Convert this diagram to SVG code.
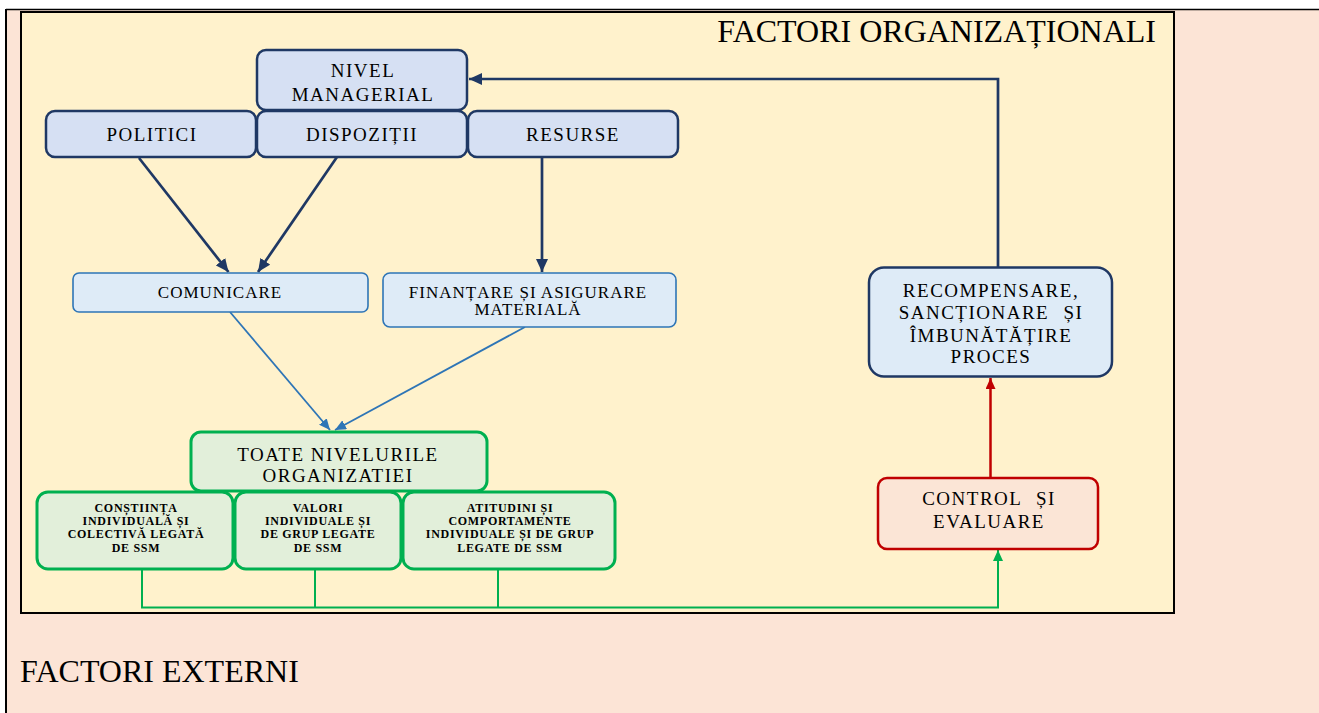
<svg xmlns="http://www.w3.org/2000/svg" width="1319" height="713" viewBox="0 0 1319 713">
<style>
.t{font-family:"Liberation Serif","Times New Roman",serif;fill:#000;text-anchor:middle}
.m{font-size:19px;letter-spacing:1.5px}
.s{font-size:17px;letter-spacing:1px}
.xs{font-size:12px;letter-spacing:0.7px;font-weight:bold}
.big{font-family:"Liberation Serif","Times New Roman",serif;font-size:32px;fill:#000}
.navy{fill:#D6E0F3;stroke:#1F3864;stroke-width:2.5}
.lb{fill:#DEEBF7;stroke:#2E75B6;stroke-width:1.6}
.lb2{fill:#DEEBF7;stroke:#1F3864;stroke-width:2.5}
.gr{fill:#E2EFDA;stroke:#00B050;stroke-width:3}
.rd{fill:#FBE5D6;stroke:#C00000;stroke-width:2.5}
</style>
<defs>
<marker id="aN" markerUnits="userSpaceOnUse" markerWidth="13" markerHeight="12" refX="13" refY="6" orient="auto"><path d="M0,0 L13,6 L0,12 z" fill="#1F3864"/></marker>
<marker id="aB" markerUnits="userSpaceOnUse" markerWidth="11" markerHeight="10" refX="11" refY="5" orient="auto"><path d="M0,0 L11,5 L0,10 z" fill="#2E75B6"/></marker>
<marker id="aR" markerUnits="userSpaceOnUse" markerWidth="11" markerHeight="10" refX="11" refY="5" orient="auto"><path d="M0,0 L11,5 L0,10 z" fill="#C00000"/></marker>
<marker id="aG" markerUnits="userSpaceOnUse" markerWidth="11" markerHeight="10" refX="11" refY="5" orient="auto"><path d="M0,0 L11,5 L0,10 z" fill="#00B050"/></marker>
</defs>
<rect x="0" y="0" width="1319" height="713" fill="#FFFFFF"/>
<rect x="6" y="9.5" width="1313" height="703.5" fill="#FCE4D6"/>
<line x1="6" y1="9.5" x2="1319" y2="9.5" stroke="#000" stroke-width="1.5"/>
<line x1="6" y1="9" x2="6" y2="713" stroke="#000" stroke-width="2"/>
<rect x="21" y="12" width="1153" height="601" fill="#FFF2CC" stroke="#000" stroke-width="2"/>
<text class="big" x="1156" y="42" text-anchor="end">FACTORI ORGANIZAȚIONALI</text>
<text class="big" x="20" y="682">FACTORI EXTERNI</text>

<g id="connectors" fill="none">
<line x1="139" y1="158" x2="228.5" y2="272" stroke="#1F3864" stroke-width="2.7" marker-end="url(#aN)"/>
<line x1="337" y1="157" x2="258" y2="272" stroke="#1F3864" stroke-width="2.7" marker-end="url(#aN)"/>
<line x1="542" y1="157" x2="542" y2="272" stroke="#1F3864" stroke-width="2.7" marker-end="url(#aN)"/>
<line x1="230" y1="312" x2="330" y2="430" stroke="#2E75B6" stroke-width="1.8" marker-end="url(#aB)"/>
<line x1="525" y1="327" x2="335" y2="430" stroke="#2E75B6" stroke-width="1.8" marker-end="url(#aB)"/>
<polyline points="142,569 142,607.5 998,607.5 998,550" stroke="#00B050" stroke-width="2" marker-end="url(#aG)"/>
<line x1="315" y1="569" x2="315" y2="607.5" stroke="#00B050" stroke-width="2"/>
<line x1="498" y1="569" x2="498" y2="607.5" stroke="#00B050" stroke-width="2"/>
<line x1="990.5" y1="477" x2="990.5" y2="378" stroke="#C00000" stroke-width="2.5" marker-end="url(#aR)"/>
<polyline points="998,267 998,79 469,79" stroke="#1F3864" stroke-width="2.7" marker-end="url(#aN)"/>
</g>

<g id="nivel">
<rect class="navy" x="257" y="50" width="210" height="60" rx="9"/>
<text class="t m" x="363" y="77">NIVEL</text>
<text class="t m" x="363" y="101">MANAGERIAL</text>
</g>
<g id="politici">
<rect class="navy" x="46" y="111" width="210" height="46" rx="9"/>
<text class="t m" x="152" y="141">POLITICI</text>
</g>
<g id="dispozitii">
<rect class="navy" x="257" y="111" width="210" height="46" rx="9"/>
<text class="t m" x="362" y="141">DISPOZIȚII</text>
</g>
<g id="resurse">
<rect class="navy" x="468" y="111" width="210" height="46" rx="9"/>
<text class="t m" x="573" y="141">RESURSE</text>
</g>
<g id="comunicare">
<rect class="lb" x="73" y="273" width="295" height="39" rx="6"/>
<text class="t s" x="220" y="298">COMUNICARE</text>
</g>
<g id="finantare">
<rect class="lb" x="383" y="273" width="293" height="54" rx="7"/>
<text class="t s" x="528" y="298">FINANȚARE ȘI ASIGURARE</text>
<text class="t s" x="528" y="315">MATERIALĂ</text>
</g>
<g id="toate">
<rect class="gr" x="191" y="432" width="296" height="59" rx="10"/>
<text class="t m" x="338" y="461">TOATE NIVELURILE</text>
<text class="t m" x="338" y="482">ORGANIZATIEI</text>
</g>
<g id="constiinta">
<rect class="gr" x="37" y="492" width="196" height="77" rx="11"/>
<text class="t xs" x="136" y="512">CONȘTIINȚA</text>
<text class="t xs" x="136" y="525">INDIVIDUALĂ ȘI</text>
<text class="t xs" x="136" y="538">COLECTIVĂ LEGATĂ</text>
<text class="t xs" x="136" y="552">DE SSM</text>
</g>
<g id="valori">
<rect class="gr" x="235" y="492" width="166" height="77" rx="11"/>
<text class="t xs" x="318" y="512">VALORI</text>
<text class="t xs" x="318" y="525">INDIVIDUALE ȘI</text>
<text class="t xs" x="318" y="538">DE GRUP LEGATE</text>
<text class="t xs" x="318" y="552">DE SSM</text>
</g>
<g id="atitudini">
<rect class="gr" x="403" y="492" width="212" height="77" rx="11"/>
<text class="t xs" x="510" y="512">ATITUDINI ȘI</text>
<text class="t xs" x="510" y="525">COMPORTAMENTE</text>
<text class="t xs" x="510" y="538">INDIVIDUALE ȘI DE GRUP</text>
<text class="t xs" x="510" y="552">LEGATE DE SSM</text>
</g>
<g id="control">
<rect class="rd" x="878" y="478" width="220" height="71" rx="9"/>
<text class="t m" x="989" y="505" word-spacing="8">CONTROL ȘI</text>
<text class="t m" x="989" y="528">EVALUARE</text>
</g>
<g id="recompensare">
<rect class="lb2" x="869" y="267.5" width="243" height="109" rx="15"/>
<text class="t m" x="991" y="297">RECOMPENSARE,</text>
<text class="t m" x="991" y="319" word-spacing="8">SANCȚIONARE ȘI</text>
<text class="t m" x="991" y="342">ÎMBUNĂTĂȚIRE</text>
<text class="t m" x="991" y="363">PROCES</text>
</g>
</svg>
